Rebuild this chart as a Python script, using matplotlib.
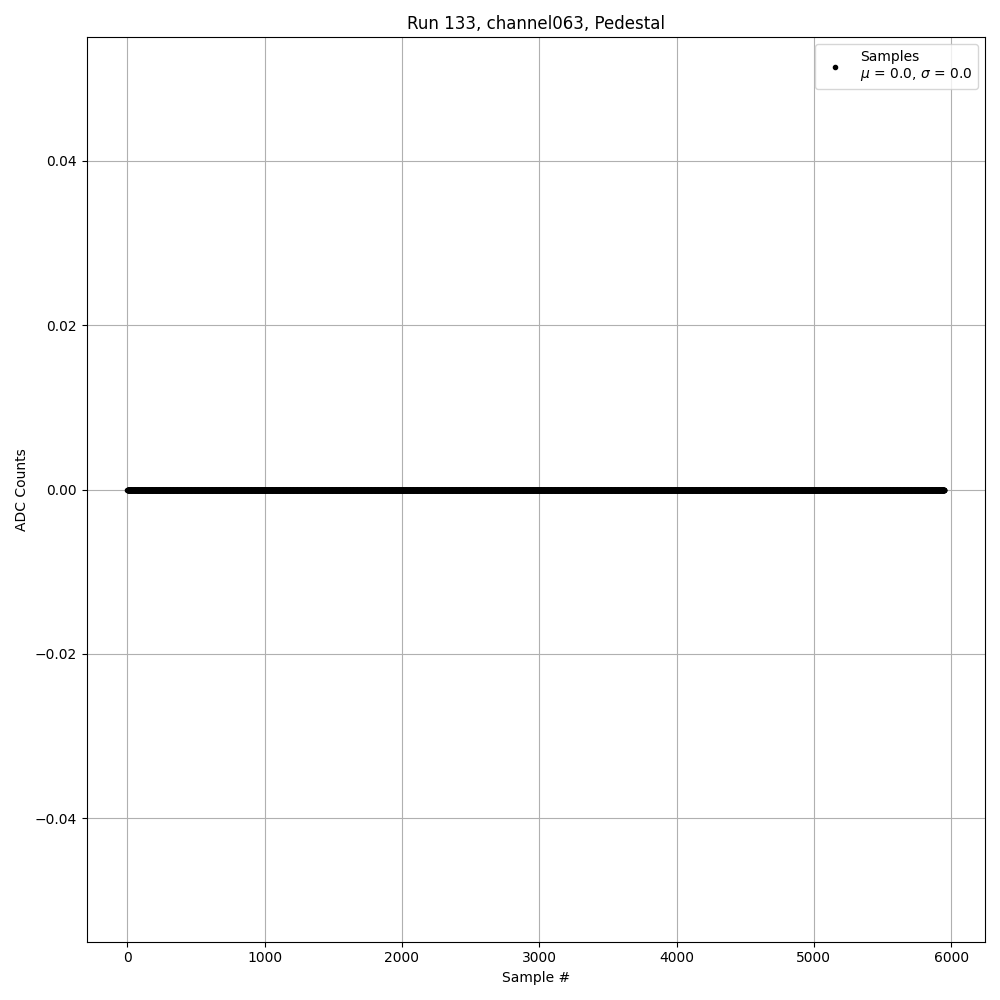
import matplotlib
matplotlib.use("Agg")
import matplotlib.pyplot as plt

# pedestal run data
run = 133
channel = "channel063"
n_samples = 5950
sample_idx = list(range(n_samples))
adc_counts = [0.0] * n_samples
mu, sigma = 0.0, 0.0

fig = plt.figure(figsize=(10, 10), dpi=100)
ax = fig.add_subplot(111)
ax.plot(sample_idx, adc_counts, 'k.',
        label="Samples\n$\\mu$ = {:.1f}, $\\sigma$ = {:.1f}".format(mu, sigma))
ax.set_title("Run {}, {}, Pedestal".format(run, channel))
ax.set_xlabel("Sample #")
ax.set_ylabel("ADC Counts")
ax.grid()
ax.legend(loc="upper right")
fig.tight_layout()
fig.savefig("out.png")
